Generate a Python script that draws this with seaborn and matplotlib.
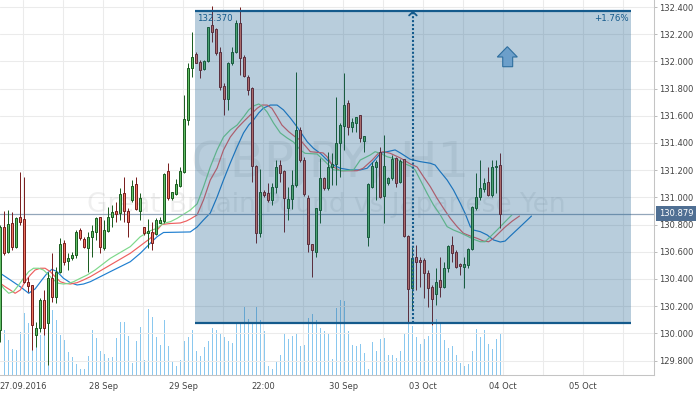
import numpy as np
import seaborn as sns
import matplotlib
matplotlib.use("Agg")
import matplotlib.pyplot as plt
import matplotlib.transforms as mtransforms
from matplotlib.patches import Polygon

# GBPJPY H1 bars, index -1 is the bar cut by the left edge
bar_idx = np.arange(-1, 125)
opens = [
    130.025,
    130.785, 130.601, 130.809, 130.638, 130.853, 130.839, 130.380, 130.356, 129.988, 130.037,
    130.246, 130.074, 130.405, 130.270, 130.454, 130.662, 130.532, 130.552, 130.574, 130.760,
    130.692, 130.630, 130.706, 130.748, 130.853, 130.630, 130.755, 130.858, 130.898, 130.883,
    131.030, 130.902, 130.981, 131.099, 130.902, 130.780, 130.736, 130.748, 130.731, 130.814,
    130.829, 131.194, 130.993, 131.025, 131.086, 131.189, 131.569, 131.949, 132.054, 131.998,
    131.942, 132.005, 132.268, 132.236, 132.072, 131.819, 131.726, 131.986, 132.072, 132.280,
    132.030, 131.888, 131.802, 131.231, 130.741, 131.042, 131.035, 130.981, 131.079, 131.238,
    131.197, 130.920, 130.986, 131.091, 131.496, 131.275, 130.996, 130.657, 130.601, 130.907,
    131.140, 131.067, 131.226, 131.246, 131.398, 131.525, 131.692, 131.520, 131.550, 131.606,
    131.417, 130.711, 131.074, 131.226, 131.336, 131.010, 131.104, 131.140, 131.287, 131.116,
    131.280, 130.716, 130.331, 130.564, 130.540, 130.540, 130.442, 130.344, 130.290, 130.392,
    130.344, 130.478, 130.650, 130.601, 130.510, 130.491, 130.503, 130.618, 130.920, 131.005,
    131.059, 131.111, 131.018, 131.226, 131.238,
]
highs = [
    130.797,
    130.902, 130.907, 130.895, 130.858, 131.190, 131.153, 130.417, 130.356, 130.086, 130.258,
    130.319, 130.454, 130.589, 130.491, 130.699, 130.687, 130.589, 130.601, 130.760, 130.773,
    130.711, 130.748, 130.797, 130.858, 130.858, 130.834, 130.932, 130.944, 130.969, 131.067,
    131.152, 130.920, 131.128, 131.152, 131.030, 130.785, 130.839, 130.822, 130.846, 130.858,
    131.177, 131.250, 131.042, 131.133, 131.226, 131.753, 131.991, 132.219, 132.072, 132.010,
    132.010, 132.255, 132.407, 132.243, 132.108, 131.839, 131.998, 132.108, 132.304, 132.402,
    132.047, 131.900, 131.809, 131.238, 131.206, 131.054, 131.108, 131.108, 131.275, 131.275,
    131.201, 131.079, 131.201, 131.925, 131.520, 131.295, 131.017, 130.660, 130.925, 131.287,
    131.148, 131.336, 131.324, 131.741, 131.545, 131.912, 131.716, 131.581, 131.594, 131.606,
    131.451, 131.104, 131.263, 131.275, 131.373, 131.459, 131.152, 131.312, 131.295, 131.280,
    131.285, 130.723, 130.638, 130.650, 130.564, 130.552, 130.466, 130.356, 130.478, 130.564,
    130.527, 130.650, 130.716, 130.613, 130.520, 130.564, 130.625, 130.937, 131.177, 131.275,
    131.140, 131.226, 131.275, 131.275, 131.324,
]
lows = [
    129.939,
    130.576, 130.589, 130.613, 130.625, 130.797, 130.368, 130.307, 129.878, 129.902, 130.013,
    129.988, 129.768, 130.233, 130.221, 130.442, 130.503, 130.466, 130.540, 130.552, 130.687,
    130.625, 130.454, 130.564, 130.687, 130.589, 130.613, 130.748, 130.785, 130.822, 130.834,
    130.822, 130.711, 130.969, 130.907, 130.834, 130.723, 130.625, 130.613, 130.723, 130.809,
    130.809, 130.981, 130.981, 131.018, 131.079, 131.177, 131.532, 131.888, 131.986, 131.876,
    131.937, 131.998, 132.145, 132.047, 131.790, 131.606, 131.643, 131.974, 132.059, 131.900,
    131.888, 131.753, 131.116, 130.662, 130.711, 131.005, 130.969, 130.944, 131.030, 131.116,
    130.748, 130.834, 130.912, 131.079, 131.263, 131.010, 130.601, 130.412, 130.564, 130.809,
    131.054, 131.054, 131.091, 131.091, 131.152, 131.349, 131.459, 131.483, 131.483, 131.410,
    131.336, 130.643, 131.067, 130.981, 130.993, 130.809, 131.091, 131.128, 131.079, 131.108,
    130.711, 130.074, 130.172, 130.319, 130.344, 130.258, 130.197, 130.062, 130.209, 130.270,
    130.331, 130.454, 130.527, 130.478, 130.429, 130.331, 130.478, 130.613, 130.907, 130.981,
    131.042, 131.010, 131.005, 131.030, 130.773,
]
closes = [
    130.785,
    130.589, 130.804, 130.638, 130.846, 130.822, 130.380, 130.349, 130.062, 130.037, 130.246,
    130.037, 130.405, 130.270, 130.454, 130.655, 130.527, 130.557, 130.574, 130.748, 130.699,
    130.638, 130.706, 130.753, 130.846, 130.638, 130.760, 130.858, 130.895, 130.878, 131.025,
    130.902, 130.822, 131.084, 130.912, 130.993, 130.736, 130.755, 130.662, 130.834, 130.834,
    131.172, 130.993, 131.040, 131.099, 131.196, 131.574, 131.949, 132.030, 131.991, 131.937,
    132.005, 132.251, 132.219, 132.059, 131.809, 131.726, 131.991, 132.072, 132.280, 132.023,
    131.893, 131.790, 131.231, 130.741, 131.042, 131.017, 130.981, 131.074, 131.221, 131.182,
    130.993, 130.986, 131.091, 131.496, 131.275, 131.025, 130.657, 130.613, 130.920, 131.140,
    131.067, 131.226, 131.246, 131.398, 131.532, 131.679, 131.520, 131.557, 131.594, 131.434,
    131.451, 131.096, 131.231, 131.263, 131.005, 131.231, 131.145, 131.280, 131.108, 131.270,
    130.719, 130.327, 130.552, 130.527, 130.527, 130.442, 130.331, 130.251, 130.380, 130.344,
    130.478, 130.643, 130.594, 130.491, 130.496, 130.510, 130.618, 130.927, 131.000, 131.067,
    131.103, 131.018, 131.221, 131.233, 130.879,
]

# tick volume, bars 0..124
vol_idx = np.arange(0, 125)
volumes = [
    135, 105, 78, 75, 130, 185, 155, 100, 115, 120,
    140, 160, 195, 165, 120, 105, 70, 55, 33, 18,
    18, 57, 135, 110, 73, 63, 52, 55, 110, 160,
    160, 117, 35, 102, 145, 45, 198, 175, 115, 90,
    165, 88, 40, 27, 45, 102, 115, 135, 73, 57,
    83, 103, 142, 135, 125, 115, 102, 95, 152, 160,
    205, 168, 158, 208, 165, 133, 27, 18, 43, 60,
    127, 108, 117, 125, 88, 90, 170, 183, 165, 140,
    133, 125, 48, 202, 225, 223, 132, 90, 88, 92,
    67, 18, 100, 73, 108, 112, 60, 60, 52, 73,
    123, 170, 147, 113, 92, 107, 118, 148, 168, 152,
    105, 80, 88, 60, 35, 28, 33, 73, 138, 115,
    135, 93, 77, 108, 123,
]

# alligator lines (bar position, price)
jaw_x = [-0.8, 1.7, 4.2, 6.3, 7.9, 9.6, 10.9, 12.1, 13.4, 15.0, 16.7, 18.4, 20.0, 21.7, 26.7,
         31.7, 34.2, 36.7, 38.4, 40.0, 46.7, 48.4, 50.0, 51.7, 53.4, 55.0, 56.7, 58.4, 60.0,
         61.3, 62.5, 63.8, 65.0, 66.7, 68.4, 70.0, 71.7, 73.4, 75.9, 77.5, 79.2, 80.9, 82.5,
         84.2, 86.7, 89.2, 90.9, 92.5, 94.2, 95.9, 97.9, 99.2, 101.7, 104.2, 106.7, 107.9,
         109.2, 110.9, 112.5, 114.2, 115.4, 116.7, 117.5, 119.2, 120.9, 122.5, 124.2, 125.4,
         126.7, 129.2, 132.0]
jaw_y = [130.442, 130.393, 130.343, 130.295, 130.327, 130.393, 130.442, 130.471, 130.454,
         130.405, 130.373, 130.356, 130.363, 130.380, 130.454, 130.527, 130.589, 130.663,
         130.711, 130.742, 130.746, 130.782, 130.834, 130.885, 131.003, 131.128, 131.253,
         131.371, 131.474, 131.532, 131.569, 131.621, 131.657, 131.679, 131.679, 131.643,
         131.584, 131.518, 131.410, 131.361, 131.324, 131.275, 131.238, 131.214, 131.202,
         131.202, 131.214, 131.263, 131.324, 131.336, 131.349, 131.327, 131.280, 131.263,
         131.251, 131.238, 131.189, 131.128, 131.054, 130.957, 130.883, 130.785, 130.760,
         130.748, 130.724, 130.687, 130.672, 130.679, 130.716, 130.785, 130.863]
teeth_x = [-0.8, 0.4, 1.7, 2.9, 4.2, 5.4, 6.7, 7.9, 9.2, 10.4, 11.7, 12.9, 14.2, 15.4, 16.7,
           18.4, 20.0, 21.7, 26.7, 31.7, 36.7, 38.4, 39.6, 41.7, 44.2, 45.7, 46.7, 48.4, 50.0,
           51.7, 53.4, 55.0, 56.7, 58.4, 60.0, 61.7, 63.4, 64.6, 65.9, 67.1, 68.4, 69.6, 71.3,
           72.9, 74.2, 76.7, 79.9, 80.9, 82.4, 84.2, 88.4, 89.9, 92.2, 93.7, 94.9, 96.7, 99.2,
           101.7, 103.4, 105.0, 106.7, 108.4, 110.0, 111.7, 113.4, 115.0, 116.7, 118.4, 120.0,
           121.3, 122.5, 124.2, 125.4, 127.2, 129.0]
teeth_y = [130.368, 130.343, 130.319, 130.295, 130.319, 130.380, 130.429, 130.466, 130.479,
           130.479, 130.454, 130.417, 130.380, 130.368, 130.363, 130.373, 130.393, 130.417,
           130.503, 130.589, 130.699, 130.760, 130.801, 130.808, 130.812, 130.826, 130.841,
           130.871, 130.981, 131.128, 131.216, 131.349, 131.444, 131.508, 131.557, 131.606,
           131.655, 131.679, 131.679, 131.655, 131.593, 131.532, 131.483, 131.446, 131.422,
           131.336, 131.327, 131.299, 131.226, 131.196, 131.196, 131.214, 131.275, 131.324,
           131.336, 131.324, 131.290, 131.246, 131.224, 131.152, 131.079, 130.993, 130.920,
           130.846, 130.785, 130.736, 130.716, 130.699, 130.679, 130.674, 130.699, 130.748,
           130.782, 130.826, 130.863]
lips_x = [-0.8, 0.0, 1.3, 2.5, 3.8, 5.0, 6.3, 7.5, 8.8, 10.0, 11.3, 12.5, 13.8, 15.0, 16.3,
          17.5, 19.2, 20.9, 22.9, 26.7, 31.7, 34.2, 36.7, 38.4, 40.0, 41.7, 43.4, 45.4, 46.7,
          48.4, 50.0, 51.7, 53.4, 55.0, 56.7, 58.4, 60.0, 61.3, 62.5, 63.8, 64.6, 65.9, 67.5,
          69.2, 70.9, 72.5, 74.2, 75.4, 78.4, 80.0, 82.5, 85.0, 87.5, 89.2, 91.7, 92.9, 94.2,
          95.9, 98.4, 100.4, 101.7, 102.9, 104.2, 105.9, 107.5, 109.2, 110.9, 112.5, 114.2,
          115.9, 117.5, 119.2, 120.4, 121.7, 123.4, 125.4, 127.1]
lips_y = [130.368, 130.332, 130.295, 130.307, 130.356, 130.405, 130.454, 130.479, 130.479,
          130.466, 130.429, 130.393, 130.368, 130.363, 130.368, 130.380, 130.405, 130.429,
          130.466, 130.552, 130.638, 130.711, 130.755, 130.773, 130.810, 130.821, 130.846,
          130.883, 130.907, 130.952, 131.077, 131.224, 131.349, 131.444, 131.496, 131.532,
          131.591, 131.643, 131.672, 131.687, 131.672, 131.628, 131.547, 131.474, 131.437,
          131.407, 131.349, 131.324, 131.319, 131.275, 131.202, 131.196, 131.202, 131.275,
          131.312, 131.336, 131.324, 131.299, 131.280, 131.246, 131.231, 131.202, 131.128,
          131.030, 130.944, 130.871, 130.785, 130.760, 130.740, 130.716, 130.692, 130.674,
          130.674, 130.711, 130.760, 130.821, 130.871]

# price range tool
range_high = 132.370
range_low = 130.080
range_start = 47.9
range_end = 156.9
range_marker = 102.35

y_ticks = [129.8, 130.0, 130.2, 130.4, 130.6, 130.8, 131.0, 131.2, 131.4, 131.6, 131.8,
           132.0, 132.2, 132.4]
x_tick_bars = [4.9, 24.9, 44.9, 64.9, 84.9, 104.9, 124.9, 144.9]
x_tick_labels = ["27.09.2016", "28 Sep", "29 Sep", "22:00", "30 Sep", "03 Oct", "04 Oct", "05 Oct"]
x_grid_bars = [14.9, 34.9, 54.9, 74.9, 94.9, 114.9, 134.9, 154.9]

symbol = "GBPJPY, H1"
description = "Great Britain Pound vs Japanese Yen"

sns.set_style("whitegrid")
plt.rcParams["font.family"] = ["DejaVu Sans"]

blue = "#145a8c"
fig = plt.figure(figsize=(7, 3.94), dpi=100)
ax = fig.add_axes([0, 19 / 394, 654 / 700, 375 / 394])
ax_v = ax.twinx()
ax.set_zorder(ax_v.get_zorder() + 1)
ax.patch.set_visible(False)

# bars land on pixel centres: 4 px per bar
ax.set_xlim(-0.875, 162.625)
ax.set_ylim(129.694, 132.4515)

# volume in the background
ax_v.vlines(vol_idx, 0, volumes, colors="#8ac8ef", lw=0.72, antialiased=False)
ax_v.set_ylim(0, 1125)
ax_v.set_yticks([])
ax_v.grid(False)
for sp in ax_v.spines.values():
    sp.set_visible(False)

# watermark
ax.text(0.505, 0.528, symbol, transform=ax.transAxes, ha="center", va="baseline",
        fontsize=36, color="#9a9a9a", alpha=0.15, zorder=1)
ax.text(0.499, 0.436, description, transform=ax.transAxes, ha="center", va="baseline",
        fontsize=19, color="#9a9a9a", alpha=0.15, zorder=1)

# alligator
sns.lineplot(x=jaw_x, y=jaw_y, ax=ax, color="#1f7fd0", lw=0.85, errorbar=None, zorder=2)
sns.lineplot(x=teeth_x, y=teeth_y, ax=ax, color="#ee5f5f", lw=0.85, errorbar=None, zorder=2)
sns.lineplot(x=lips_x, y=lips_y, ax=ax, color="#7dd88a", lw=0.85, errorbar=None, zorder=2)

# last price line
last_close = closes[-1]
ax.axhline(last_close, color="#93a6ba", lw=0.9, zorder=2.5)

# candles
o = np.array(opens)
c = np.array(closes)
up = c >= o
fill = np.where(up, "#62bf66", "#ee7560")
edge = np.where(up, "#1d5e22", "#7a2020")
ax.vlines(bar_idx, lows, highs, colors=edge, lw=0.72, zorder=3)
ax.bar(bar_idx, np.maximum(np.abs(c - o), 0.004), bottom=np.minimum(o, c), width=0.5,
       color=fill, edgecolor=edge, linewidth=0.72, zorder=3.5)

# price range overlay
ax.fill_between([range_start, range_end], range_low, range_high, color=blue, alpha=0.3,
                lw=0, zorder=5)
ax.hlines([range_high, range_low], range_start, range_end, colors=blue, lw=1.6, zorder=6)
ax.vlines(range_marker, range_low, range_high - 0.01, colors=blue, lw=1.5,
          linestyles=(0, (1.0, 0.9)), zorder=6)
ax.plot([range_marker - 0.95, range_marker, range_marker + 0.95],
        [range_high - 0.032, range_high - 0.006, range_high - 0.032], color=blue, lw=1.3,
        zorder=6)
ax.text(range_start + 0.5, 132.317, f"{range_high:.3f}", ha="left", va="center",
        fontsize=6.2, color=blue, zorder=7)
pct = (range_high / range_low - 1) * 100
ax.text(range_end - 0.6, 132.314, f"+{pct:.2f}%", ha="right", va="center",
        fontsize=6.2, color=blue, zorder=7)
arrow = Polygon([(0.7757, 0.8755), (0.7604, 0.848), (0.7687, 0.848), (0.7687, 0.8221),
                 (0.7839, 0.8221), (0.7839, 0.848), (0.7910, 0.848)], closed=True,
                transform=ax.transAxes, fc="#6c9fca", ec="#2e6e9e", lw=0.8, zorder=7)
ax.add_patch(arrow)

# axes
ax.yaxis.tick_right()
ax.set_yticks(y_ticks)
ax.set_yticklabels([f"{v:.3f}" for v in y_ticks])
ax.set_xticks(x_tick_bars)
ax.set_xticklabels(x_tick_labels)
ax.set_xticks(x_grid_bars, minor=True)
ax.grid(True, which="major", color="#ebebeb", lw=0.75, zorder=0)
ax.grid(True, which="minor", axis="x", color="#ebebeb", lw=0.75, zorder=0)
ax.tick_params(axis="x", which="both", length=0, pad=5, labelsize=6, labelcolor="#444444")
ax.tick_params(axis="y", length=2.2, width=0.7, color="#bbbbbb", pad=1.2, labelsize=6,
               labelcolor="#444444", right=True, left=False, labelright=True, labelleft=False)
for side in ["left", "top"]:
    ax.spines[side].set_visible(False)
for side in ["right", "bottom"]:
    ax.spines[side].set_color("#c4c4c4")
    ax.spines[side].set_linewidth(0.75)

trans = mtransforms.blended_transform_factory(ax.transAxes, ax.transData)
ax.text(1.0 + 5 / 654, last_close, f"{last_close:.3f}", transform=trans, ha="left",
        va="center", color="white", fontsize=6,
        bbox=dict(boxstyle="square,pad=0.35", fc="#4f6f93", ec="none"), clip_on=False,
        zorder=10)

fig.savefig("out.png", dpi=100)
